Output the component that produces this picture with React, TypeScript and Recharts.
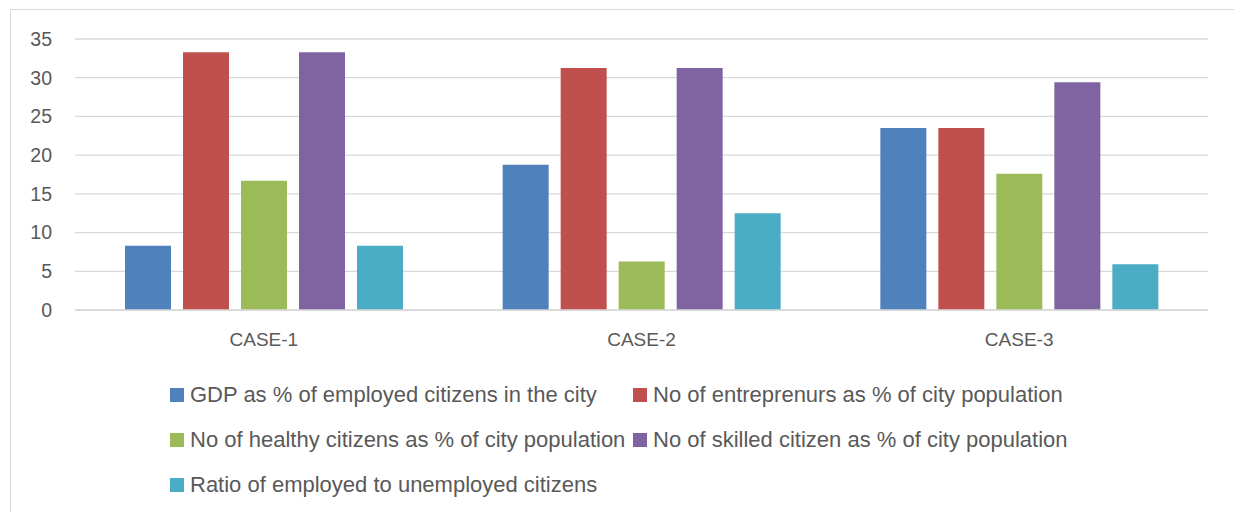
import { BarChart, Bar, XAxis, YAxis, CartesianGrid } from "recharts"

const cases = ["CASE-1", "CASE-2", "CASE-3"]
const gdpEmployed = [8.3, 18.75, 23.5]
const entrepreneurs = [33.3, 31.25, 23.5]
const healthy = [16.7, 6.25, 17.6]
const skilled = [33.3, 31.25, 29.4]
const employedRatio = [8.3, 12.5, 5.9]
const yTicks = [0, 5, 10, 15, 20, 25, 30, 35]

const SERIES = [
  { key: "gdp", name: "GDP as % of employed citizens in the city", color: "#4F81BD", values: gdpEmployed },
  { key: "ent", name: "No of entreprenurs as % of city population", color: "#C0504D", values: entrepreneurs },
  { key: "healthy", name: "No of healthy citizens as % of city population", color: "#9BBB59", values: healthy },
  { key: "skilled", name: "No of skilled citizen as % of city population", color: "#8064A2", values: skilled },
  { key: "ratio", name: "Ratio of employed to unemployed citizens", color: "#4BACC6", values: employedRatio },
]

const data = cases.map((c, i) => {
  const row: Record<string, string | number> = { name: c }
  SERIES.forEach(s => { row[s.key] = s.values[i] })
  return row
})

const FONT = "'Liberation Sans', Arial, sans-serif"
const TEXT = "#595959"

function LegendBox() {
  return (
    <div style={{ position: "absolute", left: 170, top: 380, width: 950, fontFamily: FONT, fontSize: 22, color: TEXT }}>
      {SERIES.map((s, i) => (
        <div
          key={s.key}
          style={{
            position: "absolute",
            left: i % 2 === 0 ? 0 : 463,
            top: Math.floor(i / 2) * 45,
            display: "flex",
            alignItems: "center",
            whiteSpace: "nowrap",
            height: 30,
          }}
        >
          <span style={{ width: 14, height: 14, background: s.color, marginRight: 6, display: "inline-block" }} />
          <span>{s.name}</span>
        </div>
      ))}
    </div>
  )
}

export default function App() {
  return (
    <div style={{ position: "absolute", left: 0, top: 0, width: 1234, height: 512, background: "#fff", overflow: "hidden" }}>
      <div style={{ position: "absolute", left: 10, top: 9, width: 1260, height: 540, border: "1px solid #D9D9D9" }} />
      <div style={{ position: "absolute", left: 0, top: 0 }}>
        <BarChart
          width={1234}
          height={512}
          data={data}
          margin={{ top: 39, right: 26, bottom: 172, left: 15 }}
          barCategoryGap="13.24%"
          barGap={12}
        >
          <CartesianGrid vertical={false} stroke="#D9D9D9" strokeWidth={1.3} />
          <XAxis
            dataKey="name"
            height={30}
            axisLine={{ stroke: "#D9D9D9", strokeWidth: 1.3 }}
            tickLine={false}
            tickSize={0}
            tickMargin={23}
            tick={{ fill: TEXT, fontSize: 19, fontFamily: FONT }}
          />
          <YAxis
            width={60}
            domain={[0, 35]}
            ticks={yTicks}
            axisLine={false}
            tickLine={false}
            tickSize={0}
            tickMargin={23}
            tick={{ fill: TEXT, fontSize: 19.5, fontFamily: FONT }}
          />
          {SERIES.map(s => (
            <Bar key={s.key} dataKey={s.key} name={s.name} fill={s.color} isAnimationActive={false} />
          ))}
        </BarChart>
      </div>
      <LegendBox />
    </div>
  )
}
